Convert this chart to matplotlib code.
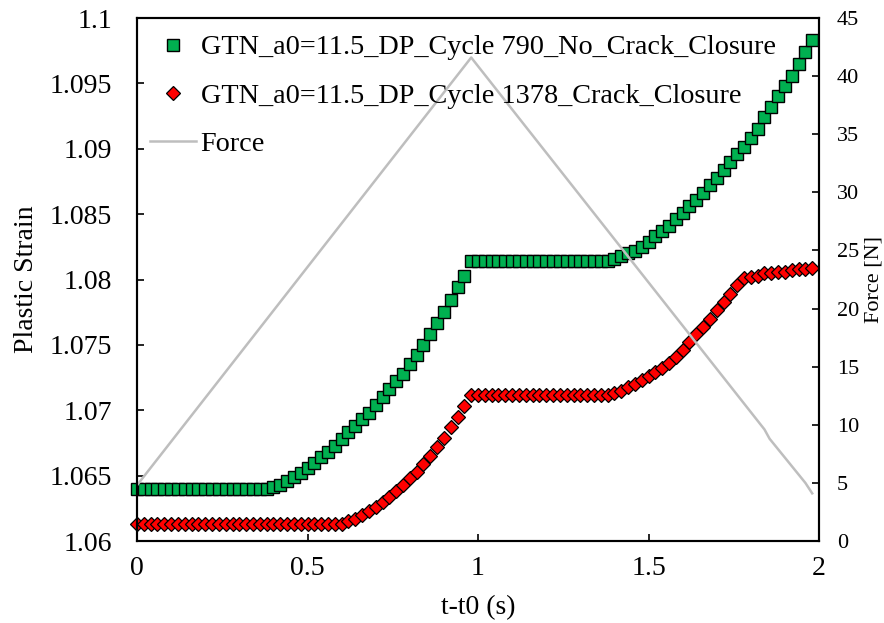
import matplotlib
matplotlib.use("Agg")
import matplotlib.pyplot as plt
from matplotlib.lines import Line2D

plt.rcParams['font.family'] = ['Liberation Serif', 'DejaVu Serif']

# time after t0 (s), sampled every 0.02 s
time_s = [0.00, 0.02, 0.04, 0.06, 0.08, 0.10, 0.12, 0.14, 0.16, 0.18,
          0.20, 0.22, 0.24, 0.26, 0.28, 0.30, 0.32, 0.34, 0.36, 0.38,
          0.40, 0.42, 0.44, 0.46, 0.48, 0.50, 0.52, 0.54, 0.56, 0.58,
          0.60, 0.62, 0.64, 0.66, 0.68, 0.70, 0.72, 0.74, 0.76, 0.78,
          0.80, 0.82, 0.84, 0.86, 0.88, 0.90, 0.92, 0.94, 0.96, 0.98,
          1.00, 1.02, 1.04, 1.06, 1.08, 1.10, 1.12, 1.14, 1.16, 1.18,
          1.20, 1.22, 1.24, 1.26, 1.28, 1.30, 1.32, 1.34, 1.36, 1.38,
          1.40, 1.42, 1.44, 1.46, 1.48, 1.50, 1.52, 1.54, 1.56, 1.58,
          1.60, 1.62, 1.64, 1.66, 1.68, 1.70, 1.72, 1.74, 1.76, 1.78,
          1.80, 1.82, 1.84, 1.86, 1.88, 1.90, 1.92, 1.94, 1.96, 1.98]

# cycle 790, no crack closure
strain_790 = ([1.0640] * 20 +
              [1.0641, 1.0643, 1.0646, 1.0649, 1.0652, 1.0656, 1.0660, 1.0664, 1.0668, 1.0673,
               1.0678, 1.0683, 1.0688, 1.0693, 1.0698, 1.0704, 1.0710, 1.0716, 1.0722, 1.0728,
               1.0735, 1.0742, 1.0750, 1.0758, 1.0767, 1.0775, 1.0784, 1.0794, 1.0803] +
              [1.0814] * 20 +
              [1.0814, 1.0816, 1.0818, 1.0820, 1.0822, 1.0825, 1.0829, 1.0833, 1.0837, 1.0841,
               1.0846, 1.0851, 1.0856, 1.0861, 1.0866, 1.0872, 1.0878, 1.0884, 1.0890, 1.0896,
               1.0901, 1.0908, 1.0915, 1.0924, 1.0932, 1.0940, 1.0948, 1.0956, 1.0965, 1.0974,
               1.0983])

# cycle 1378, crack closure
strain_1378 = ([1.0613] * 30 +
               [1.0613, 1.0615, 1.0617, 1.0620, 1.0623, 1.0626, 1.0630, 1.0634, 1.0638, 1.0643,
                1.0648, 1.0653, 1.0659, 1.0665, 1.0672, 1.0679, 1.0687, 1.0695, 1.0703] +
               [1.0712] * 21 +
               [1.0713, 1.0715, 1.0718, 1.0720, 1.0723, 1.0726, 1.0729, 1.0732, 1.0736, 1.0741,
                1.0746, 1.0752, 1.0758, 1.0764, 1.0770, 1.0777, 1.0783, 1.0789, 1.0796, 1.0801,
                1.0802, 1.0803, 1.0805, 1.0805, 1.0806, 1.0806, 1.0807, 1.0808, 1.0808, 1.0809])

# applied force [N]
force_t = [0.00, 0.98, 1.84, 1.855, 1.96, 1.98]
force_N = [4.8, 41.6, 9.6, 8.8, 5.0, 4.1]

label_790 = 'GTN_a0=11.5_DP_Cycle 790_No_Crack_Closure'
label_1378 = 'GTN_a0=11.5_DP_Cycle 1378_Crack_Closure'

green_kw = dict(linestyle='none', marker='s', markersize=8.5, markerfacecolor='#00B050',
                markeredgecolor='black', markeredgewidth=1.0)
red_kw = dict(linestyle='none', marker='D', markersize=6.9, markerfacecolor='#FF0000',
              markeredgecolor='black', markeredgewidth=0.9)
force_kw = dict(color='#BEBEBE', linewidth=1.8)

fig = plt.figure(figsize=(8.84, 6.23), dpi=100)
ax = fig.add_axes([0.155, 0.1316, 0.7715, 0.8395])
ax2 = ax.twinx()

ax.plot(time_s, strain_790, clip_on=False, **green_kw)
ax.plot(time_s, strain_1378, clip_on=False, **red_kw)
ax2.plot(force_t, force_N, **force_kw)

ax.set_xlim(0, 2)
ax.set_ylim(1.06, 1.1)
ax2.set_ylim(0, 45)
ax.set_xticks([0, 0.5, 1, 1.5, 2])
ax.set_xticklabels(['0', '0.5', '1', '1.5', '2'])
ax.set_yticks([1.06, 1.065, 1.07, 1.075, 1.08, 1.085, 1.09, 1.095, 1.1])
ax.set_yticklabels(['1.06', '1.065', '1.07', '1.075', '1.08', '1.085', '1.09', '1.095', '1.1'])
ax2.set_yticks(range(0, 46, 5))

ax.tick_params(axis='x', direction='in', length=5, width=1.2, labelsize=20, pad=11)
ax.tick_params(axis='y', direction='in', length=5, width=1.2, labelsize=20, pad=18)
ax2.tick_params(axis='y', direction='in', length=5, width=1.2, labelsize=16, pad=13)
for a in (ax, ax2):
    for s in a.spines.values():
        s.set_linewidth(1.5)

ax.set_xlabel('t-t0 (s)', fontsize=20)
ax.set_ylabel('Plastic Strain', fontsize=20)
ax2.set_ylabel('Force [N]', fontsize=16)
ax.xaxis.set_label_coords(0.5, -0.103)
ax.yaxis.set_label_coords(-0.143, 0.5)
ax2.yaxis.set_label_coords(1.066, 0.5)

handles = [Line2D([], [], **green_kw), Line2D([], [], **red_kw), Line2D([], [], **force_kw)]
ax2.legend(handles, [label_790, label_1378, 'Force'], loc='upper left', frameon=False,
           fontsize=20.3, handlelength=1.65, handletextpad=0.15, labelspacing=0.8,
           borderpad=0, borderaxespad=0, bbox_to_anchor=(0.019, 0.968))

fig.savefig('out.png', dpi=100)
